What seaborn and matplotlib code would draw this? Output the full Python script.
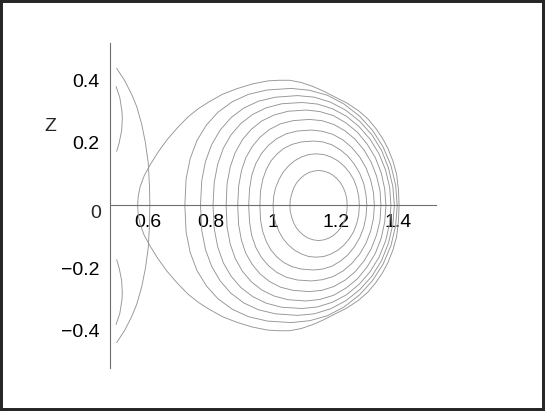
import seaborn as sns
import matplotlib.pyplot as plt
from matplotlib.patches import Rectangle
from matplotlib.ticker import MultipleLocator

# Flux surfaces. Only the upper half (Z >= 0) is listed,
# going from the inner crossing of Z=0, over the top, to the outer crossing.
# The picture is up-down symmetric so the lower half is mirrored.
ring1_R = [1.054, 1.055, 1.060, 1.066, 1.075, 1.087, 1.100, 1.114, 1.130, 1.146,
           1.161, 1.177, 1.191, 1.204, 1.216, 1.225, 1.232, 1.236, 1.237]
ring1_Z = [0.0, 0.019, 0.038, 0.056, 0.072, 0.086, 0.097, 0.105, 0.110, 0.112,
           0.110, 0.105, 0.097, 0.086, 0.072, 0.056, 0.038, 0.019, 0.0]

ring2_R = [1.000, 1.002, 1.008, 1.019, 1.032, 1.049, 1.069, 1.091, 1.114, 1.138,
           1.162, 1.185, 1.207, 1.227, 1.244, 1.258, 1.268, 1.274, 1.276]
ring2_Z = [0.0, 0.029, 0.056, 0.083, 0.106, 0.126, 0.143, 0.155, 0.163, 0.165,
           0.163, 0.155, 0.143, 0.126, 0.106, 0.083, 0.056, 0.029, 0.0]

ring3_R = [0.958, 0.960, 0.967, 0.978, 0.993, 1.012, 1.034, 1.060, 1.090, 1.129,
           1.159, 1.188, 1.215, 1.239, 1.260, 1.277, 1.290, 1.297, 1.300]
ring3_Z = [0.0, 0.047, 0.083, 0.114, 0.142, 0.164, 0.182, 0.195, 0.203, 0.206,
           0.203, 0.194, 0.178, 0.158, 0.132, 0.103, 0.070, 0.036, 0.0]

ring4_R = [0.922, 0.925, 0.932, 0.945, 0.963, 0.985, 1.011, 1.042, 1.078, 1.123,
           1.158, 1.192, 1.224, 1.252, 1.277, 1.297, 1.312, 1.321, 1.324]
ring4_Z = [0.0, 0.054, 0.097, 0.134, 0.166, 0.192, 0.213, 0.229, 0.238, 0.241,
           0.237, 0.227, 0.209, 0.185, 0.155, 0.121, 0.082, 0.042, 0.0]

ring5_R = [0.887, 0.890, 0.899, 0.913, 0.934, 0.959, 0.989, 1.024, 1.064, 1.116,
           1.156, 1.194, 1.231, 1.263, 1.291, 1.314, 1.331, 1.342, 1.345]
ring5_Z = [0.0, 0.062, 0.111, 0.153, 0.189, 0.219, 0.243, 0.261, 0.271, 0.275,
           0.271, 0.259, 0.238, 0.211, 0.177, 0.138, 0.094, 0.048, 0.0]

ring6_R = [0.850, 0.853, 0.863, 0.879, 0.902, 0.930, 0.964, 1.003, 1.048, 1.106,
           1.150, 1.193, 1.233, 1.270, 1.301, 1.327, 1.346, 1.357, 1.361]
ring6_Z = [0.0, 0.069, 0.123, 0.169, 0.210, 0.243, 0.270, 0.289, 0.301, 0.305,
           0.300, 0.287, 0.264, 0.234, 0.196, 0.153, 0.104, 0.053, 0.0]

ring7_R = [0.808, 0.812, 0.823, 0.841, 0.866, 0.897, 0.935, 0.978, 1.028, 1.093,
           1.142, 1.190, 1.235, 1.275, 1.310, 1.339, 1.360, 1.373, 1.377]
ring7_Z = [0.0, 0.074, 0.132, 0.183, 0.226, 0.262, 0.291, 0.312, 0.325, 0.329,
           0.324, 0.309, 0.285, 0.252, 0.212, 0.165, 0.113, 0.057, 0.0]

ring8_R = [0.768, 0.772, 0.784, 0.804, 0.831, 0.865, 0.906, 0.953, 1.008, 1.078,
           1.132, 1.184, 1.233, 1.277, 1.316, 1.347, 1.369, 1.383, 1.388]
ring8_Z = [0.0, 0.079, 0.141, 0.195, 0.241, 0.280, 0.311, 0.333, 0.346, 0.351,
           0.346, 0.330, 0.304, 0.269, 0.226, 0.176, 0.120, 0.061, 0.0]

ring9_R = [0.718, 0.722, 0.735, 0.757, 0.787, 0.824, 0.869, 0.921, 0.981, 1.058,
           1.117, 1.174, 1.227, 1.276, 1.318, 1.352, 1.377, 1.392, 1.397]
ring9_Z = [0.0, 0.085, 0.150, 0.208, 0.257, 0.298, 0.331, 0.355, 0.369, 0.374,
           0.368, 0.352, 0.324, 0.286, 0.240, 0.187, 0.128, 0.065, 0.0]

# outermost (separatrix-like) surface
ring10_R = [0.567, 0.569, 0.575, 0.588, 0.606, 0.632, 0.661, 0.694, 0.728, 0.762,
            0.795, 0.838, 0.884, 0.933, 0.983, 1.018, 1.053, 1.090, 1.128, 1.162,
            1.195, 1.235, 1.273, 1.303, 1.328, 1.350, 1.367, 1.383, 1.395, 1.401, 1.403]
ring10_Z = [0.0, 0.030, 0.060, 0.095, 0.128, 0.170, 0.210, 0.248, 0.283, 0.310,
            0.331, 0.355, 0.373, 0.388, 0.398, 0.400, 0.400, 0.393, 0.380, 0.365,
            0.348, 0.328, 0.303, 0.277, 0.247, 0.215, 0.183, 0.143, 0.100, 0.050, 0.0]

# open curves on the inboard side, from the top end down to Z=0
arc_outer_R = [0.500, 0.525, 0.548, 0.564, 0.580, 0.592, 0.601, 0.605, 0.606]
arc_outer_Z = [0.438, 0.400, 0.355, 0.316, 0.260, 0.200, 0.135, 0.060, 0.0]

arc_inner_R = [0.498, 0.510, 0.517, 0.518, 0.516, 0.508, 0.500]
arc_inner_Z = [0.380, 0.345, 0.300, 0.279, 0.240, 0.200, 0.173]

x_ticks = [0.6, 0.8, 1.0, 1.2, 1.4]
x_labels = ["0.6", "0.8", "1", "1.2", "1.4"]
y_ticks = [-0.4, -0.2, 0.2, 0.4]
y_labels = ["\u22120.4", "\u22120.2", "0.2", "0.4"]


def mirrored(R, Z):
    # upper half followed by its reflection, so the curve is continuous
    return list(R) + list(R[::-1]), list(Z) + [-z for z in Z[::-1]]


sns.set_style("white")
plt.rcParams["font.family"] = ["Liberation Sans", "DejaVu Sans"]

fig = plt.figure(figsize=(5.45, 4.11), dpi=100)
ax = fig.add_axes([0.2026, 0.1039, 0.5968, 0.7922])

line_col = "#959595"
lw = 0.65
rings = [(ring1_R, ring1_Z), (ring2_R, ring2_Z), (ring3_R, ring3_Z), (ring4_R, ring4_Z),
         (ring5_R, ring5_Z), (ring6_R, ring6_Z), (ring7_R, ring7_Z), (ring8_R, ring8_Z),
         (ring9_R, ring9_Z), (ring10_R, ring10_Z), (arc_outer_R, arc_outer_Z)]
for R, Z in rings:
    r, z = mirrored(R, Z)
    sns.lineplot(x=r, y=z, sort=False, estimator=None, color=line_col, lw=lw, ax=ax)

# the small arcs do not reach Z=0, so upper and lower pieces are separate
sns.lineplot(x=arc_inner_R, y=arc_inner_Z, sort=False, estimator=None, color=line_col, lw=lw, ax=ax)
sns.lineplot(x=arc_inner_R, y=[-z for z in arc_inner_Z], sort=False, estimator=None,
             color=line_col, lw=lw, ax=ax)

ax.set_xlim(0.48, 1.52)
ax.set_ylim(-0.52, 0.52)

# Maple style axes: horizontal axis through Z=0, vertical one on the left
ax.spines["bottom"].set_position(("data", 0))
ax.spines["top"].set_visible(False)
ax.spines["right"].set_visible(False)
for s in ["bottom", "left"]:
    ax.spines[s].set_color("#6e6e6e")
    ax.spines[s].set_linewidth(0.8)

ax.set_xticks(x_ticks)
ax.set_xticklabels(x_labels)
ax.set_yticks(y_ticks)
ax.set_yticklabels(y_labels)
ax.xaxis.set_minor_locator(MultipleLocator(0.04))
ax.yaxis.set_minor_locator(MultipleLocator(0.04))
ax.tick_params(which="major", direction="out", length=5, width=0.7, color="#6e6e6e",
               labelsize=14, labelcolor="black")
ax.tick_params(which="minor", direction="out", length=3, width=0.7, color="#6e6e6e")
ax.tick_params(axis="x", which="major", pad=1)
ax.tick_params(axis="y", which="major", pad=3)

ax.annotate("0", xy=(0.48, 0), xytext=(-10.5, -6), textcoords="offset points",
            ha="center", va="center", fontsize=14)
ax.set_ylabel("Z", rotation=0, fontsize=14, ha="center", va="center")
ax.yaxis.set_label_coords(-0.184, 0.742)
ax.set_xlabel("")

fig.patches.append(Rectangle((0, 0), 1, 1, transform=fig.transFigure, fill=False,
                             lw=4.3, ec="#262626"))

fig.savefig("out.png", dpi=100)
